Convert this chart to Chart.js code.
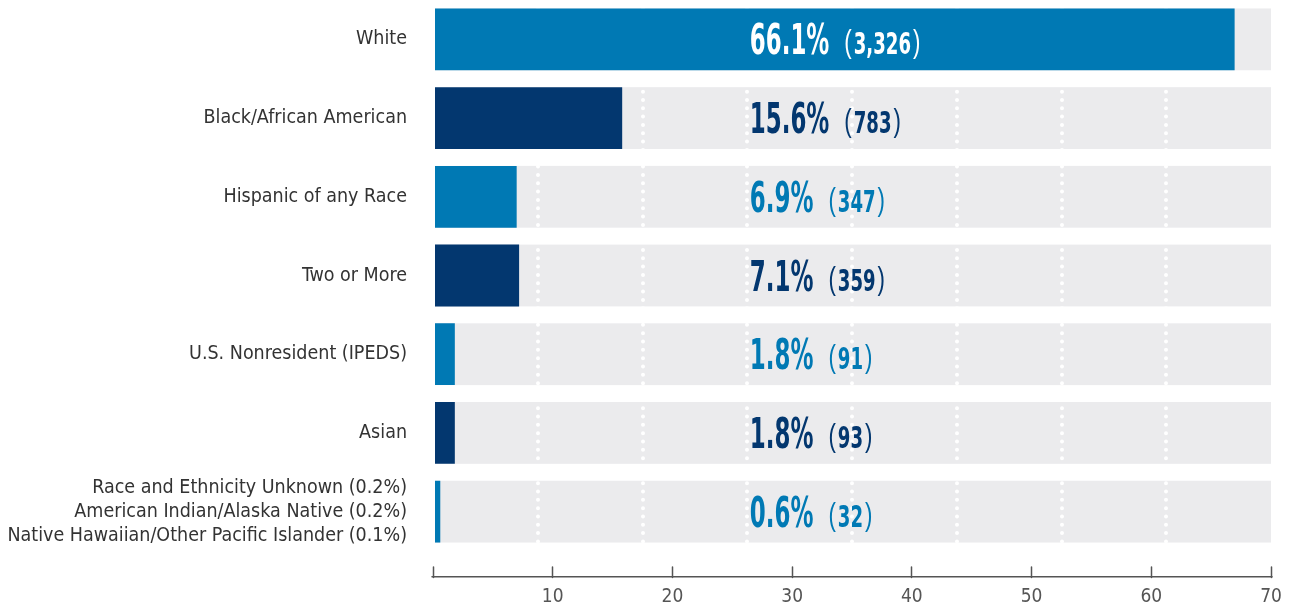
<!DOCTYPE html>
<html>
<head>
<meta charset="utf-8">
<script src="https://cdn.jsdelivr.net/npm/chart.js@4.4.0/dist/chart.umd.min.js"></script>
<style>
  html, body { margin: 0; padding: 0; background: #fff; }
  #wrap { position: relative; width: 1301px; height: 609px; }
</style>
</head>
<body>
<div id="wrap"><canvas id="Race_Chart"></canvas></div>
<script>
// data
const categories = [
    'White',
    'Black/African American',
    'Hispanic of any Race',
    'Two or More',
    'U.S. Nonresident (IPEDS)',
    'Asian',
    ['Race and Ethnicity Unknown (0.2%)', 'American Indian/Alaska Native (0.2%)', 'Native Hawaiian/Other Pacific Islander (0.1%)']
];
const percents = [66.1, 15.6, 6.9, 7.1, 1.8, 1.8, 0.6];
const counts = [3326, 783, 347, 359, 91, 93, 32];
const tickValues = [0, 10, 20, 30, 40, 50, 60, 70];

// styles
const BLUE = '#0079b4';
const NAVY = '#03376f';
const TRACK = '#ebebed';
const NARROW = "'Liberation Sans Narrow', 'DejaVu Sans Condensed', 'Roboto', sans-serif";
const PAREN = "'Liberation Sans', sans-serif";
const LABEL_POS = 0.378;   // share of plot width where the value label starts

function barColor(i) {
    return i % 2 ? NAVY : BLUE;
}

// draw text squeezed to a condensed look, returns width used
function drawNarrow(ctx, text, x, y, font, size, em) {
    ctx.font = font;
    var sx = (em * size) / ctx.measureText('0').width;
    ctx.save();
    ctx.translate(x, y);
    ctx.scale(sx, 1);
    ctx.fillText(text, 0, 0);
    ctx.restore();
    return ctx.measureText(text).width * sx;
}

const tracksPlugin = {
    id: 'tracks',
    beforeDraw: function(chart) {
        var ctx = chart.ctx, area = chart.chartArea;
        ctx.save();
        ctx.fillStyle = TRACK;
        chart.getDatasetMeta(0).data.forEach(function(bar) {
            ctx.fillRect(bar.base, bar.y - bar.height / 2, area.right - bar.base, bar.height);
        });
        ctx.restore();
        ctx.lineCap = 'round'; // makes the dashed grid come out as dots
    },
    beforeDatasetsDraw: function(chart) {
        chart.ctx.lineCap = 'butt';
    },
    afterDatasetsDraw: function(chart) {
        var ctx = chart.ctx, area = chart.chartArea;
        var x0 = area.left + LABEL_POS * (area.right - area.left);
        chart.getDatasetMeta(0).data.forEach(function(bar, i) {
            var base = bar.y + 15;
            ctx.save();
            ctx.fillStyle = bar.x > x0 ? '#fff' : barColor(i);
            ctx.textAlign = 'left';
            ctx.textBaseline = 'alphabetic';
            var x = x0;
            x += drawNarrow(ctx, percents[i].toFixed(1) + '%', x, base, '700 42px ' + NARROW, 42, 0.38) + 15;
            x += drawNarrow(ctx, '(', x, base - 2, '400 31px ' + PAREN, 31, 0.4) + 2;
            x += drawNarrow(ctx, counts[i].toLocaleString('en-US'), x, base, '700 30px ' + NARROW, 30, 0.42) + 2;
            drawNarrow(ctx, ')', x, base - 2, '400 31px ' + PAREN, 31, 0.4);
            ctx.restore();
        });
    }
};

var Race_Chart = null;

function createRace_Chart() {
    var canvas = document.getElementById('Race_Chart');

    if (Race_Chart) {
        Race_Chart.destroy();
    }

    Race_Chart = new Chart(canvas, {
        type: 'bar',
        data: {
            labels: categories,
            datasets: [{
                data: percents,
                backgroundColor: function(c) { return barColor(c.dataIndex); },
                barPercentage: 0.785,
                categoryPercentage: 1,
                inflateAmount: 0,
                xAxisID: 'x'
            }]
        },
        plugins: [tracksPlugin],
        options: {
            indexAxis: 'y',
            responsive: true,
            maintainAspectRatio: false,
            animation: false,
            layout: {
                padding: { left: 0, right: 30, top: -2, bottom: 0 }
            },
            plugins: {
                legend: { display: false },
                tooltip: { enabled: false }
            },
            scales: {
                y: {
                    grid: { display: false, drawTicks: false },
                    border: { display: false },
                    ticks: {
                        autoSkip: false,
                        padding: 26,
                        color: '#333',
                        font: { family: NARROW, size: 19.5, lineHeight: 1.23 }
                    },
                    afterFit: function(scale) {
                        scale.width = 433;
                        scale.paddingTop = 0;
                        scale.paddingBottom = 0;
                    }
                },
                x: {
                    type: 'linear',
                    position: 'bottom',
                    weight: 0,
                    min: 0,
                    max: 69.1,
                    ticks: { display: false, count: 9 },
                    border: { display: false, dash: [0, 8.33] },
                    grid: {
                        color: function(c) {
                            return (c.index === 0 || c.index === 8) ? 'rgba(0,0,0,0)' : '#ffffff';
                        },
                        lineWidth: 4,
                        drawTicks: true,
                        tickLength: 26,
                        tickColor: 'rgba(0,0,0,0)'
                    }
                },
                xAxis: {
                    axis: 'x',
                    type: 'linear',
                    position: 'bottom',
                    weight: 1,
                    min: 0,
                    max: 70,
                    afterBuildTicks: function(scale) {
                        scale.ticks = tickValues.map(function(v) { return { value: v }; });
                    },
                    afterFit: function(scale) {
                        scale.height = 32;
                    },
                    border: { display: true, color: '#555', width: 1.5 },
                    grid: {
                        drawOnChartArea: false,
                        drawTicks: true,
                        tickLength: -10,
                        tickColor: '#555',
                        tickWidth: 1.5
                    },
                    ticks: {
                        padding: 19,
                        color: '#555',
                        font: { family: NARROW, size: 19 },
                        callback: function(v) { return v === 0 ? '' : v; }
                    }
                }
            }
        }
    });
}

document.addEventListener('DOMContentLoaded', function() {
    createRace_Chart();
});
</script>
</body>
</html>
